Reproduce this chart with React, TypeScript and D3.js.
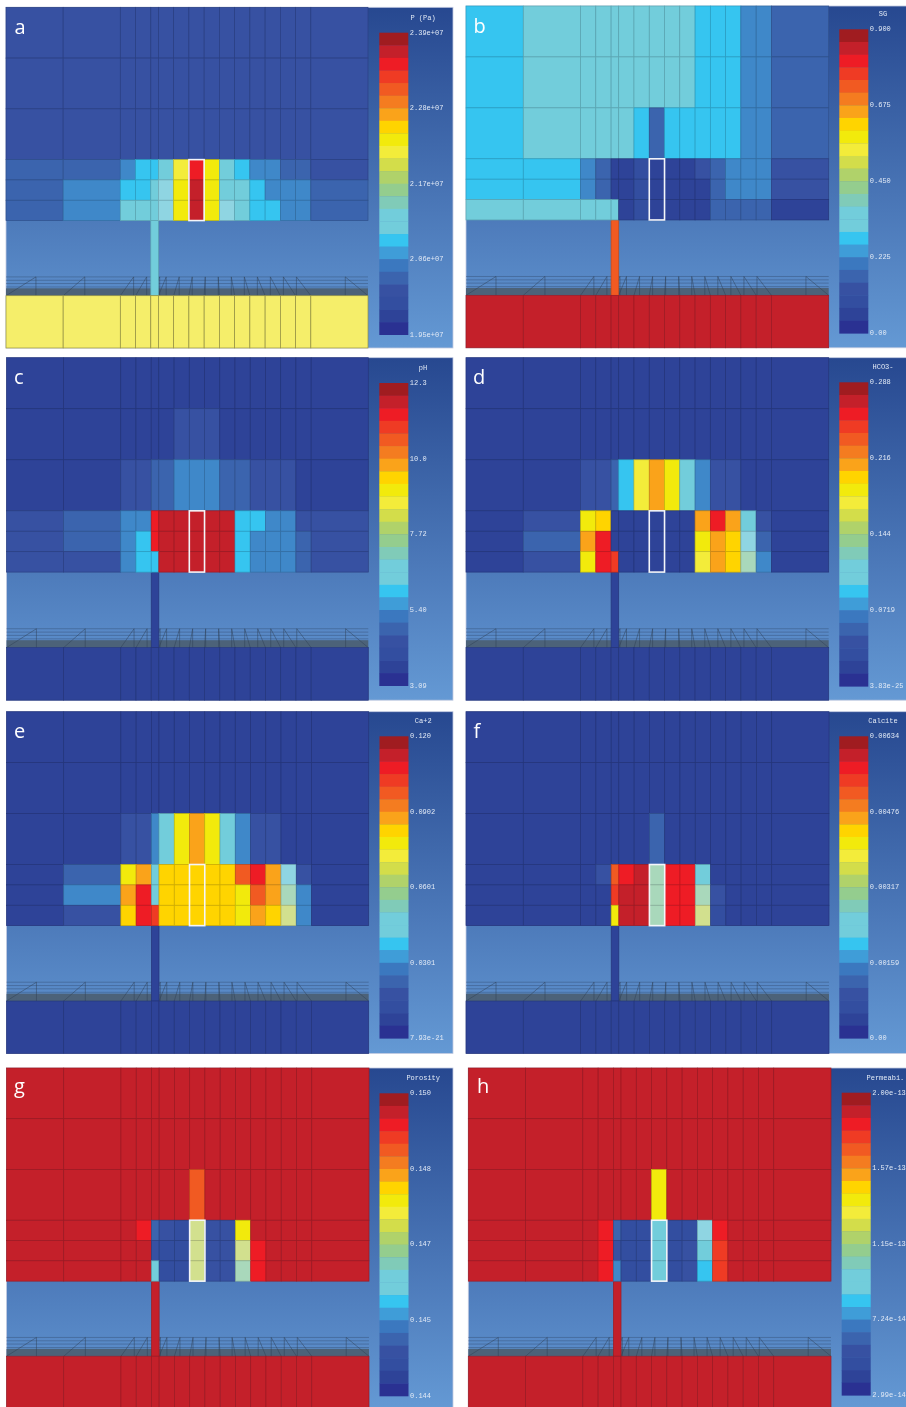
import React from "react";
import * as d3 from "d3";

// ---- grid (model units) ----
const columnWidths = [150, 150, 40, 40, 20, 40, 40, 40, 40, 40, 40, 40, 40, 40, 40, 150];
const rowHeights = [50, 50, 50, 20, 20, 20];
const gapHeight = 74;
const bottomHeight = 51;
const wellColumn = 4;
const boxColumn = 7;
const perspectiveLines = [55.5, 58.8, 62, 65.4];
const bandStart = 66.7;
const vanishRatio = 0.8545;
const vanishAt = 540;

// ---- colour levels: 0 = lowest ... 23 = highest, then five pale tints ----
const levelColors = [
  "#2a3192", "#2e4398", "#334ea0", "#3751a2", "#3b64ae", "#3b78bf", "#3f9dd8", "#36c5f0",
  "#72cddb", "#72cddb", "#80cbb8", "#94cd8e", "#b0d26a", "#d3dd4a", "#f3ec3a", "#f2ea0c",
  "#ffd400", "#faa31a", "#f47c20", "#f15a22", "#ef3b24", "#ee1c25", "#c4202a", "#a01c20",
];
const tintCodes = [30, 31, 32, 33, 34];
const tintColors = ["#8fd5e2", "#a9d8bb", "#d2e08e", "#f5ee6a", "#3f88c9"];

// ---- cell levels per panel: 6 reservoir rows x 16 columns ----
const pressureCells = [
  [3, 3, 3, 3, 3, 3, 3, 3, 3, 3, 3, 3, 3, 3, 3, 3],
  [3, 3, 3, 3, 3, 3, 3, 3, 3, 3, 3, 3, 3, 3, 3, 3],
  [3, 3, 3, 3, 3, 3, 3, 3, 3, 3, 3, 3, 3, 3, 3, 3],
  [4, 4, 34, 7, 7, 8, 14, 21, 15, 8, 7, 34, 34, 4, 4, 3],
  [4, 34, 7, 7, 8, 30, 15, 22, 15, 8, 8, 7, 34, 34, 34, 4],
  [4, 34, 8, 8, 8, 30, 15, 22, 15, 30, 8, 7, 7, 34, 34, 4],
];
const gasCells = [
  [7, 8, 8, 8, 8, 8, 8, 8, 8, 8, 7, 7, 7, 34, 34, 4],
  [7, 8, 8, 8, 8, 8, 8, 8, 8, 8, 7, 7, 7, 34, 34, 4],
  [7, 8, 8, 8, 8, 8, 7, 4, 7, 7, 7, 7, 7, 34, 34, 4],
  [7, 7, 34, 4, 1, 1, 2, 1, 1, 1, 3, 4, 34, 34, 34, 3],
  [7, 7, 34, 4, 1, 1, 2, 1, 1, 1, 1, 4, 34, 34, 34, 3],
  [8, 8, 8, 8, 8, 1, 2, 1, 1, 1, 1, 4, 4, 4, 4, 1],
];
const phCells = [
  [1, 1, 1, 1, 1, 1, 1, 1, 1, 1, 1, 1, 1, 1, 1, 1],
  [1, 1, 1, 1, 1, 1, 3, 3, 3, 1, 1, 1, 1, 1, 1, 1],
  [1, 1, 3, 3, 4, 4, 34, 34, 34, 4, 4, 3, 3, 3, 1, 1],
  [3, 4, 34, 34, 21, 22, 22, 22, 22, 22, 7, 7, 34, 34, 3, 3],
  [3, 4, 34, 7, 21, 22, 22, 22, 22, 22, 7, 34, 34, 34, 4, 3],
  [3, 3, 34, 7, 7, 22, 22, 22, 22, 22, 7, 34, 34, 34, 4, 3],
];
const bicarbonateCells = [
  [1, 1, 1, 1, 1, 1, 1, 1, 1, 1, 1, 1, 1, 1, 1, 1],
  [1, 1, 1, 1, 1, 1, 1, 1, 1, 1, 1, 1, 1, 1, 1, 1],
  [1, 1, 3, 3, 4, 7, 14, 17, 15, 8, 34, 3, 3, 1, 1, 1],
  [1, 3, 15, 16, 1, 1, 1, 1, 1, 1, 17, 21, 17, 8, 3, 1],
  [1, 4, 17, 21, 1, 1, 1, 1, 1, 1, 15, 17, 16, 30, 4, 1],
  [1, 3, 15, 21, 20, 1, 1, 1, 1, 1, 14, 17, 16, 31, 34, 1],
];
const calciumCells = [
  [1, 1, 1, 1, 1, 1, 1, 1, 1, 1, 1, 1, 1, 1, 1, 1],
  [1, 1, 1, 1, 1, 1, 1, 1, 1, 1, 1, 1, 1, 1, 1, 1],
  [1, 1, 3, 3, 34, 8, 15, 17, 15, 8, 34, 3, 3, 1, 1, 1],
  [1, 4, 15, 17, 8, 16, 16, 16, 16, 16, 19, 21, 17, 30, 3, 1],
  [1, 34, 17, 21, 8, 16, 16, 16, 16, 16, 15, 19, 17, 31, 34, 1],
  [1, 3, 16, 21, 20, 16, 16, 16, 16, 16, 15, 17, 16, 32, 34, 1],
];
const calciteCells = [
  [1, 1, 1, 1, 1, 1, 1, 1, 1, 1, 1, 1, 1, 1, 1, 1],
  [1, 1, 1, 1, 1, 1, 1, 1, 1, 1, 1, 1, 1, 1, 1, 1],
  [1, 1, 1, 1, 1, 1, 1, 4, 1, 1, 1, 1, 1, 1, 1, 1],
  [1, 1, 1, 3, 19, 21, 22, 31, 21, 21, 8, 1, 1, 1, 1, 1],
  [1, 1, 1, 1, 20, 22, 22, 31, 21, 21, 31, 3, 1, 1, 1, 1],
  [1, 1, 1, 1, 15, 22, 22, 31, 21, 21, 32, 2, 1, 1, 1, 1],
];
const porosityCells = [
  [22, 22, 22, 22, 22, 22, 22, 22, 22, 22, 22, 22, 22, 22, 22, 22],
  [22, 22, 22, 22, 22, 22, 22, 22, 22, 22, 22, 22, 22, 22, 22, 22],
  [22, 22, 22, 22, 22, 22, 22, 19, 22, 22, 22, 22, 22, 22, 22, 22],
  [22, 22, 22, 21, 4, 3, 2, 32, 3, 3, 15, 22, 22, 22, 22, 22],
  [22, 22, 22, 22, 3, 2, 2, 32, 3, 3, 32, 21, 22, 22, 22, 22],
  [22, 22, 22, 22, 8, 2, 2, 32, 3, 3, 31, 21, 22, 22, 22, 22],
];
const permeabilityCells = [
  [22, 22, 22, 22, 22, 22, 22, 22, 22, 22, 22, 22, 22, 22, 22, 22],
  [22, 22, 22, 22, 22, 22, 22, 22, 22, 22, 22, 22, 22, 22, 22, 22],
  [22, 22, 22, 22, 22, 22, 22, 15, 22, 22, 22, 22, 22, 22, 22, 22],
  [22, 22, 22, 21, 4, 2, 2, 8, 2, 2, 30, 21, 22, 22, 22, 22],
  [22, 22, 22, 21, 3, 2, 2, 8, 2, 3, 8, 20, 22, 22, 22, 22],
  [22, 22, 22, 21, 34, 2, 2, 8, 2, 3, 7, 20, 22, 22, 22, 22],
];

const panelLetters = ["a", "b", "c", "d", "e", "f", "g", "h"];
const panelTitles = ["P (Pa)", "SG", "pH", "HCO3-", "Ca+2", "Calcite", "Porosity", "Permeabi."];
const panelTicks = [
  ["2.39e+07", "2.28e+07", "2.17e+07", "2.06e+07", "1.95e+07"],
  ["0.900", "0.675", "0.450", "0.225", "0.00"],
  ["12.3", "10.0", "7.72", "5.40", "3.09"],
  ["0.288", "0.216", "0.144", "0.0719", "3.83e-25"],
  ["0.120", "0.0902", "0.0601", "0.0301", "7.93e-21"],
  ["0.00634", "0.00476", "0.00317", "0.00159", "0.00"],
  ["0.150", "0.148", "0.147", "0.145", "0.144"],
  ["2.00e-13", "1.57e-13", "1.15e-13", "7.24e-14", "2.99e-14"],
];
const panelCells = [
  pressureCells, gasCells, phCells, bicarbonateCells,
  calciumCells, calciteCells, porosityCells, permeabilityCells,
];
const wellLevels = [8, 19, 1, 1, 1, 1, 22, 22];
const bottomLevels = [33, 22, 1, 1, 1, 1, 22, 22];

// ---- layout, in page pixels ----
const plotLefts = [6, 466, 6.5, 466, 6.5, 466, 6.5, 468.3];
const plotRights = [368, 828.7, 368.3, 828.7, 368.7, 829, 369, 831];
const plotTops = [7.3, 6, 357.7, 357.7, 711.7, 711.7, 1068, 1068];
const plotBottoms = [347.5, 347.3, 699.7, 699.7, 1053, 1053, 1408, 1408];
const panelRights = [453, 910, 453, 910, 453, 910, 453, 910];
const barLefts = [379.3, 839.3, 379.3, 839.3, 379.5, 839.3, 379.5, 841.7];
const barTops = [32.7, 29.3, 383, 382.3, 736.3, 736.3, 1093.3, 1092.7];
const barBottoms = [334.7, 333.3, 685.7, 686.3, 1038.3, 1038.3, 1396, 1395.3];
const letterXs = [14.5, 473.5, 14, 473, 14, 473.5, 14, 477];
const letterYs = [34, 33.3, 384, 383.7, 737.7, 737.7, 1093, 1093];
const barWidth = 29;

const colorOf = d3
  .scaleOrdinal<number, string>()
  .domain([...d3.range(levelColors.length), ...tintCodes])
  .range([...levelColors, ...tintColors]);

const columnEdges = [0, ...d3.cumsum(columnWidths)];
const rowEdges = [0, ...d3.cumsum(rowHeights)];
const reservoirEnd = rowEdges[rowEdges.length - 1];
const gapEnd = reservoirEnd + gapHeight;
const totalHeight = gapEnd + bottomHeight;
const totalWidth = columnEdges[columnEdges.length - 1];
const levelsDescending = d3.range(levelColors.length).reverse();

const edgeOf = (fill: string, k: number) => d3.color(fill)!.darker(k).formatHex();

function Cell({ x0, x1, y0, y1, level, k = 0.6 }: any) {
  const fill = colorOf(level);
  return (
    <rect
      x={x0}
      y={y0}
      width={x1 - x0}
      height={y1 - y0}
      fill={fill}
      stroke={edgeOf(fill, k)}
      strokeWidth={0.7}
    />
  );
}

function Panel({ i }: { i: number }) {
  const x = d3.scaleLinear().domain([0, totalWidth]).range([plotLefts[i], plotRights[i]]);
  const y = d3.scaleLinear().domain([0, totalHeight]).range([plotTops[i], plotBottoms[i]]);
  const bar = d3.scaleBand<number>().domain(levelsDescending).range([barTops[i], barBottoms[i]]);
  const tickPos = d3.scalePoint<string>().domain(panelTicks[i]).range([barTops[i], barBottoms[i]]);
  const backX = (v: number) => x(vanishAt + (v - vanishAt) * vanishRatio);
  const top = plotTops[i];
  const bottom = Math.min(plotBottoms[i] + 0.5, 1408);
  const left = plotLefts[i];
  const wellX0 = x(columnEdges[wellColumn]);
  const wellX1 = x(columnEdges[wellColumn + 1]);
  const cells = panelCells[i];
  const barX1 = barLefts[i] + barWidth;
  const lineTop = y(reservoirEnd + perspectiveLines[0]);
  const lineBottom = y(gapEnd);
  return (
    <g>
      <rect
        x={left}
        y={top}
        width={panelRights[i] - left}
        height={bottom - top}
        fill="url(#panelBg)"
        stroke="#c3cbe2"
        strokeWidth={0.8}
      />
      {/* perspective layer under the reservoir */}
      <rect
        x={x(0)}
        y={y(reservoirEnd + bandStart)}
        width={x(totalWidth) - x(0)}
        height={y(gapEnd) - y(reservoirEnd + bandStart)}
        fill="#4c6279"
      />
      {perspectiveLines.map((v) => (
        <line
          key={v}
          x1={x(0)}
          x2={x(totalWidth)}
          y1={y(reservoirEnd + v)}
          y2={y(reservoirEnd + v)}
          stroke="#2f4668"
          strokeOpacity={0.65}
          strokeWidth={0.6}
        />
      ))}
      {columnEdges.map((e) => (
        <g key={e} stroke="#2f4055" strokeOpacity={0.8} strokeWidth={0.6}>
          <line x1={x(e)} y1={lineBottom} x2={backX(e)} y2={lineTop} />
          <line x1={backX(e)} y1={lineBottom} x2={backX(e)} y2={lineTop} />
        </g>
      ))}
      {/* well */}
      <Cell x0={wellX0} x1={wellX1} y0={y(reservoirEnd)} y1={y(gapEnd)} level={wellLevels[i]} />
      {/* bottom layer */}
      {columnWidths.map((_, c) => (
        <Cell
          key={c}
          x0={x(columnEdges[c])}
          x1={x(columnEdges[c + 1])}
          y0={y(gapEnd)}
          y1={bottom}
          level={bottomLevels[i]}
          k={bottomLevels[i] === 33 ? 1.4 : 0.6}
        />
      ))}
      {/* reservoir */}
      {cells.map((row, r) =>
        row.map((level, c) => (
          <Cell
            key={`${r}-${c}`}
            x0={x(columnEdges[c])}
            x1={x(columnEdges[c + 1])}
            y0={y(rowEdges[r])}
            y1={y(rowEdges[r + 1])}
            level={level}
          />
        ))
      )}
      {/* monitored column */}
      <rect
        x={x(columnEdges[boxColumn])}
        y={y(rowEdges[3])}
        width={x(columnEdges[boxColumn + 1]) - x(columnEdges[boxColumn])}
        height={y(reservoirEnd) - y(rowEdges[3])}
        fill="none"
        stroke="#f4f6fa"
        strokeWidth={1.6}
      />
      {/* colour bar */}
      {levelsDescending.map((l) => (
        <rect
          key={l}
          x={barLefts[i]}
          y={bar(l)!}
          width={barWidth}
          height={bar.bandwidth() + 0.3}
          fill={colorOf(l)}
        />
      ))}
      <g fontFamily="'Liberation Mono', monospace" fontSize={7} fill="#e2eaf6">
        <text x={barX1 + 14.7} y={barTops[i] - 14.7} textAnchor="middle" dominantBaseline="middle">
          {panelTitles[i]}
        </text>
        {panelTicks[i].map((t) => (
          <text key={t} x={barX1 + 1.5} y={tickPos(t)!} dominantBaseline="middle">
            {t}
          </text>
        ))}
      </g>
      <text
        x={letterXs[i]}
        y={letterYs[i]}
        fontFamily="'Open Sans', sans-serif"
        fontSize={20}
        fill="#ffffff"
      >
        {panelLetters[i]}
      </text>
    </g>
  );
}

export default function App() {
  return (
    <svg
      width={906}
      height={1407}
      viewBox="0 0 906 1407"
      style={{ position: "absolute", left: 0, top: 0, display: "block", background: "#fff", filter: "blur(0.45px)" }}
    >
      <defs>
        <linearGradient id="panelBg" x1="0" x2="0" y1="0" y2="1">
          <stop offset="0" stopColor="#274890" />
          <stop offset="1" stopColor="#6499d4" />
        </linearGradient>
      </defs>
      {panelLetters.map((_, i) => (
        <Panel key={i} i={i} />
      ))}
    </svg>
  );
}
